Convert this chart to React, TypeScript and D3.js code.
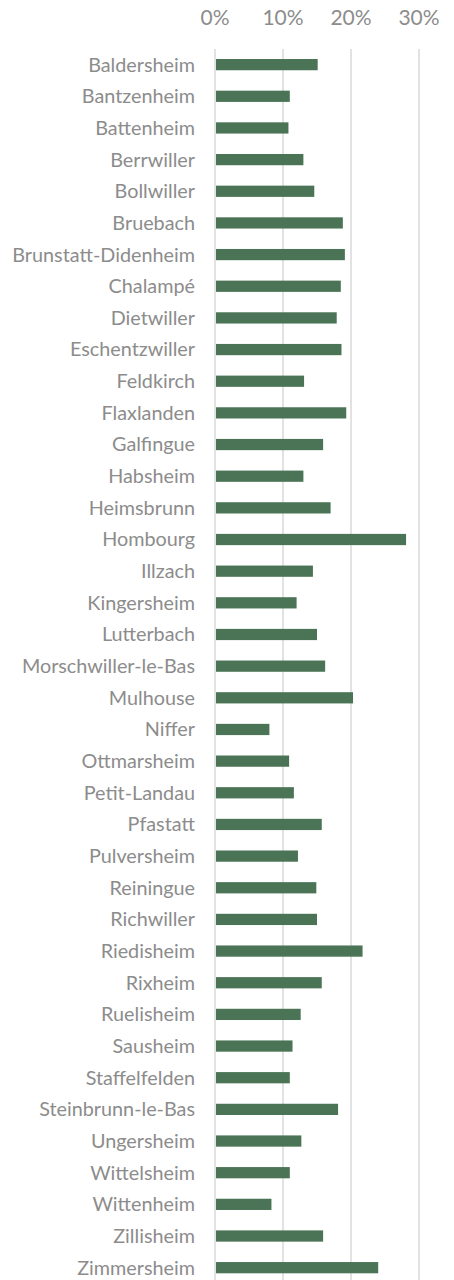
import React from "react";
import * as d3 from "d3";

const categories = [
  "Baldersheim","Bantzenheim","Battenheim","Berrwiller","Bollwiller","Bruebach",
  "Brunstatt-Didenheim","Chalampé","Dietwiller","Eschentzwiller","Feldkirch","Flaxlanden",
  "Galfingue","Habsheim","Heimsbrunn","Hombourg","Illzach","Kingersheim","Lutterbach",
  "Morschwiller-le-Bas","Mulhouse","Niffer","Ottmarsheim","Petit-Landau","Pfastatt",
  "Pulversheim","Reiningue","Richwiller","Riedisheim","Rixheim","Ruelisheim","Sausheim",
  "Staffelfelden","Steinbrunn-le-Bas","Ungersheim","Wittelsheim","Wittenheim","Zillisheim",
  "Zimmersheim",
];

const values = [
  0.151, 0.110, 0.108, 0.130, 0.146, 0.188,
  0.191, 0.185, 0.179, 0.186, 0.131, 0.193,
  0.159, 0.130, 0.170, 0.281, 0.144, 0.120, 0.150,
  0.162, 0.203, 0.080, 0.109, 0.116, 0.157,
  0.122, 0.149, 0.150, 0.217, 0.157, 0.126, 0.114,
  0.110, 0.181, 0.127, 0.110, 0.083, 0.159,
  0.240,
];

const ticks = [0, 0.1, 0.2, 0.3];

const W = 454;
const H = 1280;
const FONT = "Lato, 'Open Sans', sans-serif";

export default function App() {
  const x = d3.scaleLinear().domain([0, 0.3]).range([215, 419]);
  const y = d3
    .scaleBand<string>()
    .domain(categories)
    .range([48.8, 1283.5])
    .paddingInner(0.645)
    .paddingOuter(0.3225);
  const fmt = d3.format(".0%");

  return (
    <svg
      width={W}
      height={H}
      style={{ position: "absolute", left: 0, top: 0, background: "#fff" }}
    >
      {ticks.map((t) => (
        <g key={t}>
          <line
            x1={x(t)}
            x2={x(t)}
            y1={49}
            y2={H}
            stroke="#d9d9d9"
            strokeWidth={1.5}
          />
          <text
            x={x(t)}
            y={24.5}
            textAnchor="middle"
            fontFamily={FONT}
            fontSize={21}
            fill="#8c8c8c"
          >
            {fmt(t)}
          </text>
        </g>
      ))}
      {categories.map((c, i) => (
        <g key={c}>
          <rect
            x={x(0) + 1}
            y={y(c)!}
            width={x(values[i]) - x(0) - 1}
            height={y.bandwidth()}
            fill="#4a7455"
          />
          <text
            x={195}
            y={y(c)! + y.bandwidth() / 2}
            dy="0.35em"
            textAnchor="end"
            fontFamily={FONT}
            fontSize={19.8}
            fill="#8c8c8c"
          >
            {c}
          </text>
        </g>
      ))}
    </svg>
  );
}
